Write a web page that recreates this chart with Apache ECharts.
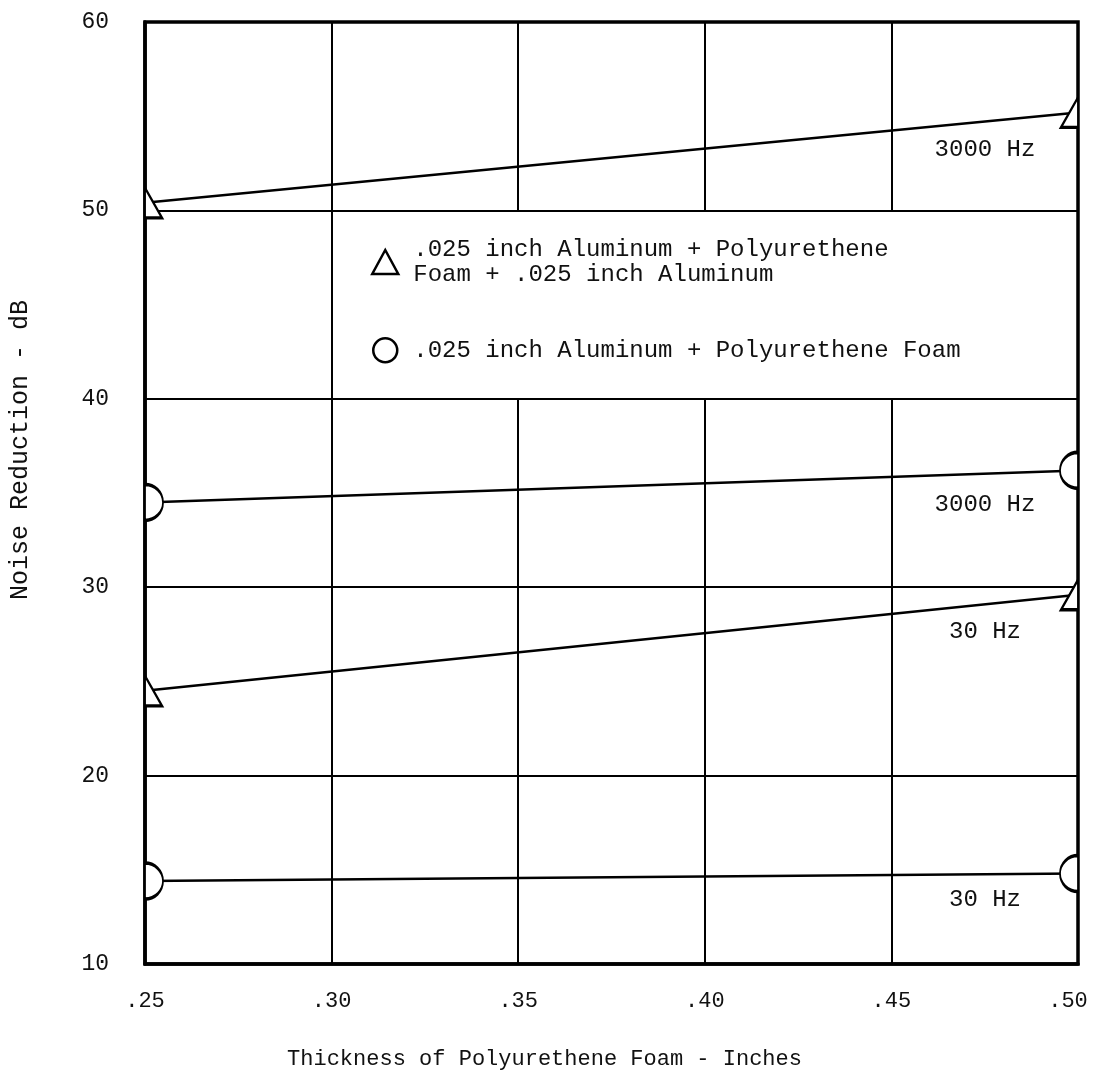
<!DOCTYPE html>
<html>
<head>
<meta charset="utf-8">
<script src="https://cdn.jsdelivr.net/npm/echarts@6/dist/echarts.min.js"></script>
<style>
  html, body { margin: 0; padding: 0; background: #fff; }
  #main { width: 1096px; height: 1085px; }
</style>
</head>
<body>
<div id="main"></div>
<script>
// ---- data ----
var thickness = [0.25, 0.50];
var sandwich3000 = [50.4, 55.2];   // triangle, 3000 Hz
var sandwich30 = [24.5, 29.6];     // triangle, 30 Hz
var single3000 = [34.5, 36.2];     // circle, 3000 Hz
var single30 = [14.4, 14.8];       // circle, 30 Hz
var gridX = [0.30, 0.35, 0.40, 0.45];
var legendBand = [40, 50];          // grid band left open for the key

var NAME_TRI = '.025 inch Aluminum + Polyurethene\nFoam + .025 inch Aluminum';
var NAME_CIR = '.025 inch Aluminum + Polyurethene Foam';
var FONT = '"Liberation Mono", "DejaVu Sans Mono", monospace';

// half markers, cut by the frame
var TRI = { right: 'path://M0,0 L1,2 L0,2 Z', left: 'path://M1,0 L1,2 L0,2 Z', size: [17, 30] };
var CIR = { right: 'path://M0,0 A1,1 0 0 1 0,2 Z', left: 'path://M1,0 A1,1 0 0 0 1,2 Z', size: [18, 36] };

function makeSeries(name, values, shape, hzText, dy) {
  var w = shape.size[0];
  return {
    name: name,
    type: 'line',
    clip: false,
    z: 3,
    data: [
      { value: [thickness[0], values[0]], symbol: shape.right, symbolSize: shape.size, symbolOffset: [w / 2, 0] },
      { value: [thickness[1], values[1]], symbol: shape.left, symbolSize: shape.size, symbolOffset: [-w / 2, 0] }
    ],
    lineStyle: { color: '#000', width: 2.5 },
    itemStyle: { color: '#fff', borderColor: '#000', borderWidth: 2.5 },
    markPoint: {
      symbol: 'rect',
      symbolSize: 1,
      itemStyle: { color: 'rgba(0,0,0,0)' },
      silent: true,
      data: [{
        coord: [thickness[1], values[1]],
        label: {
          show: true, position: 'inside', offset: [-93, dy],
          formatter: hzText, color: '#111', fontFamily: FONT, fontSize: 24
        }
      }]
    }
  };
}

// vertical grid lines, broken where the key sits
function gridSegments() {
  var segs = [];
  for (var i = 0; i < gridX.length; i++) {
    var x = gridX[i];
    if (i == 0) {
      segs.push([{ coord: [x, 10] }, { coord: [x, 60] }]);
    } else {
      segs.push([{ coord: [x, 10] }, { coord: [x, legendBand[0]] }]);
      segs.push([{ coord: [x, legendBand[1]] }, { coord: [x, 60] }]);
    }
  }
  return segs;
}

var series = [
  makeSeries(NAME_TRI, sandwich3000, TRI, '3000 Hz', 37),
  makeSeries(NAME_CIR, single3000, CIR, '3000 Hz', 34),
  makeSeries(NAME_TRI, sandwich30, TRI, '30 Hz', 37),
  makeSeries(NAME_CIR, single30, CIR, '30 Hz', 26)
];
series[0].markLine = {
  silent: true,
  symbol: 'none',
  label: { show: false },
  lineStyle: { color: '#000', width: 2, type: 'solid' },
  data: gridSegments()
};

var myChart = echarts.init(document.getElementById('main'));
var option = {
  animation: false,
  backgroundColor: '#fff',
  grid: {
    left: 145, right: 18, top: 22, bottom: 121,
    outerBoundsMode: 'none',
    containLabel: false,
    show: true, borderColor: '#000', borderWidth: 3.5, backgroundColor: '#fff'
  },
  legend: {
    orient: 'vertical',
    left: 366, top: 232,
    itemWidth: 26, itemHeight: 24,
    itemGap: 50,
    textStyle: { fontFamily: FONT, fontSize: 24, lineHeight: 25, color: '#111', padding: [0, 0, 0, 10] },
    data: [
      { name: NAME_TRI, icon: 'triangle', itemStyle: { color: '#fff', borderColor: '#000', borderWidth: 2.5 } },
      { name: NAME_CIR, icon: 'circle', itemStyle: { color: '#fff', borderColor: '#000', borderWidth: 2.5 } }
    ]
  },
  xAxis: {
    type: 'value',
    min: 0.25, max: 0.50, interval: 0.05,
    name: 'Thickness of Polyurethene Foam - Inches',
    nameLocation: 'middle', nameGap: 84,
    nameTextStyle: { fontFamily: FONT, fontSize: 22, color: '#111', padding: [0, 134, 0, 0] },
    axisLine: { show: true, lineStyle: { color: '#000', width: 3.5 } },
    axisTick: { show: false },
    splitLine: { show: false },
    axisLabel: {
      margin: 26, fontFamily: FONT, fontSize: 22, color: '#111',
      formatter: function (v) {
        var s = v.toFixed(2).replace(/^0/, '');
        return v >= 0.5 ? '{last|' + s + '}' : s;
      },
      rich: { last: { fontFamily: FONT, fontSize: 22, color: '#111', padding: [0, 20, 0, 0] } }
    }
  },
  yAxis: {
    type: 'value',
    min: 10, max: 60, interval: 10,
    name: 'Noise Reduction - dB',
    nameLocation: 'middle', nameGap: 112,
    nameTextStyle: { fontFamily: FONT, fontSize: 25, color: '#111', padding: [0, 0, 0, 86] },
    axisLine: { show: true, lineStyle: { color: '#000', width: 3.5 } },
    axisTick: { show: false },
    splitLine: { show: true, lineStyle: { color: '#000', width: 2 } },
    axisLabel: { margin: 36, fontFamily: FONT, fontSize: 23, color: '#111' }
  },
  series: series
};
myChart.setOption(option);
</script>
</body>
</html>
